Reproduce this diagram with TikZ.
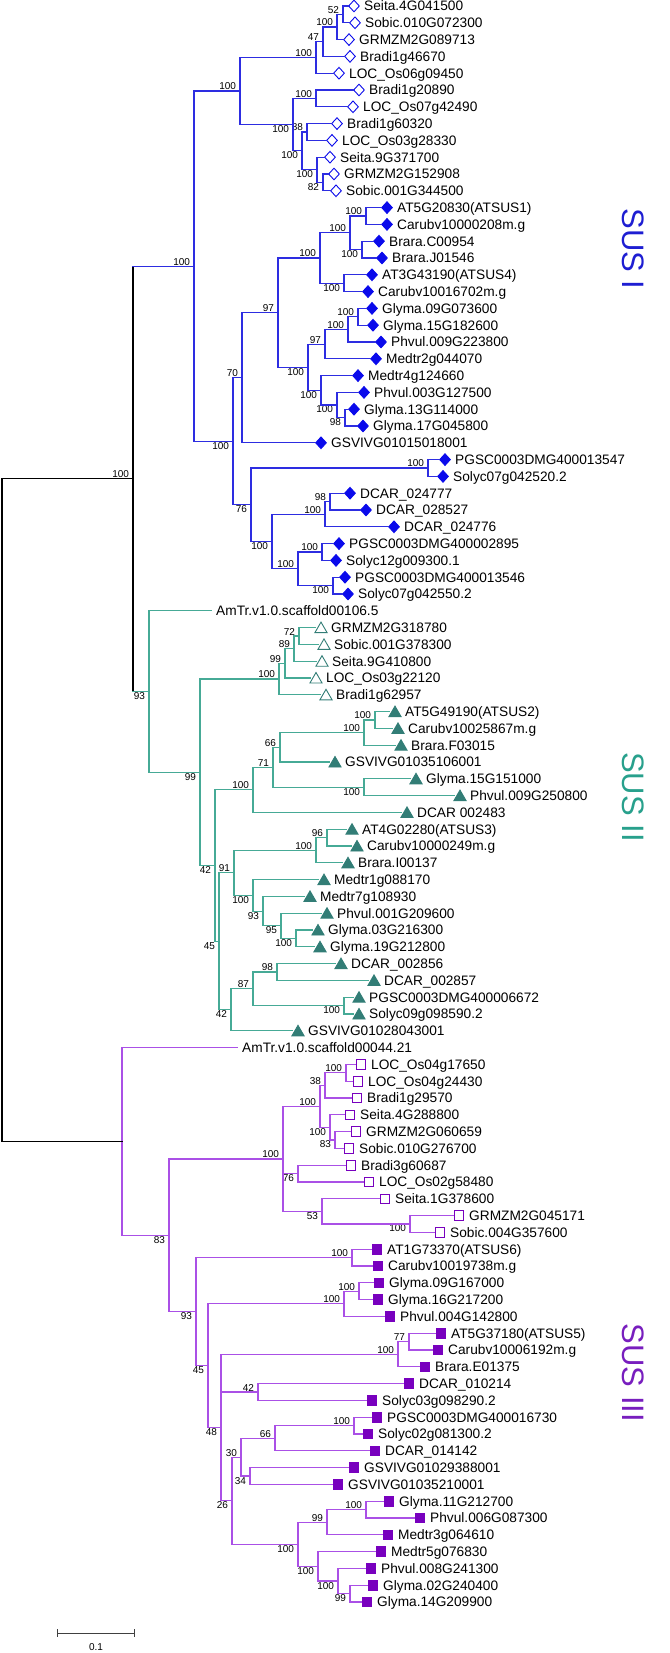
\documentclass[tikz,border=0pt]{standalone}
\usepackage{fontspec}
\setmainfont{Liberation Sans}
\usetikzlibrary{calc,shapes.geometric}
\definecolor{cI}{RGB}{45,45,225}
\definecolor{cIm}{RGB}{10,10,235}
\definecolor{cII}{RGB}{70,170,150}
\definecolor{cIIm}{RGB}{50,125,118}
\definecolor{cIII}{RGB}{170,80,230}
\definecolor{cIIIm}{RGB}{120,0,190}
\definecolor{tI}{RGB}{30,30,210}
\definecolor{tII}{RGB}{40,160,140}
\definecolor{tIII}{RGB}{120,30,190}
\tikzset{
  br/.style={line width=1.2pt, line cap=rect},
  cIl/.style={br, draw=cI},
  cIIl/.style={br, draw=cII},
  cIIIl/.style={br, draw=cIII},
  blk/.style={br, draw=black},
  mk/.style={inner sep=0pt, line width=0.9pt},
  od/.style={mk, diamond, minimum width=11pt, minimum height=12pt, draw=cIm, fill=white},
  fd/.style={mk, diamond, minimum width=11pt, minimum height=12pt, draw=cIm, fill=cIm},
  ot/.style={mk, regular polygon, regular polygon sides=3, minimum size=14pt, draw=cIIm, fill=white, yshift=-1.5pt},
  ft/.style={mk, regular polygon, regular polygon sides=3, minimum size=14pt, draw=cIIm, fill=cIIm, yshift=-1.5pt},
  os/.style={mk, rectangle, minimum size=9.5pt, draw=cIIIm, fill=white},
  fs/.style={mk, rectangle, minimum size=9.5pt, draw=cIIIm, fill=cIIIm},
  lab/.style={anchor=base west, inner sep=0pt, font=\fontsize{13.7}{15}\selectfont},
  bs/.style={inner sep=0.8pt, font=\fontsize{10}{11}\selectfont},
  bsa/.style={bs, anchor=south east, xshift=-3pt},
  bsb/.style={bs, anchor=north east, xshift=-3pt},
  bsn/.style={bs},
  sus/.style={rotate=-90, font=\fontsize{31}{31}\selectfont}
}
% leaf: index, marker centre x, marker style, text
\newcommand\lf[4]{%
  \pgfmathsetmacro\ly{6+16.8*(#1-1)}%
  \coordinate (L#1) at ({#2-5.5},\ly);
  \node[#3] (M#1) at (#2,\ly) {};
  \node[lab] (T#1) at ({#2+10},{\ly+4.9}) {#4};
}
% leaf without marker: index, tip x, text
\newcommand\lfn[3]{%
  \pgfmathsetmacro\ly{6+16.8*(#1-1)}%
  \coordinate (L#1) at (#2,\ly);
  \node[lab] (T#1) at ({#2+5},{\ly+4.9}) {#3};
}
% internal node: name, x, first child, last child, line style, label, a/b/n
\newcommand\nd[7]{%
  \path let \p1=($(#3)!0.5!(#4)$) in coordinate (#1) at (#2pt,\y1);
  \draw[#5] (#3 -| #1) -- (#4 -| #1);
  \draw[#5] (#3) -- (#3 -| #1);
  \draw[#5] (#4) -- (#4 -| #1);
  \node[bs#7] (B#1) at (#1) {#6};
}
\newcommand\hb[3]{\draw[#1] (#2) -- (#2 -| #3);}
\begin{document}
\begin{tikzpicture}[x=1pt,y=-1pt]
\useasboundingbox (0,0) rectangle (669,1653);
% ---------------- leaves
\lf{1}{354}{od}{Seita.4G041500}
\lf{2}{355}{od}{Sobic.010G072300}
\lf{3}{349}{od}{GRMZM2G089713}
\lf{4}{350}{od}{Bradi1g46670}
\lf{5}{339}{od}{LOC\_Os06g09450}
\lf{6}{359}{od}{Bradi1g20890}
\lf{7}{353}{od}{LOC\_Os07g42490}
\lf{8}{337}{od}{Bradi1g60320}
\lf{9}{332}{od}{LOC\_Os03g28330}
\lf{10}{330}{od}{Seita.9G371700}
\lf{11}{334}{od}{GRMZM2G152908}
\lf{12}{336}{od}{Sobic.001G344500}
\lf{13}{387}{fd}{AT5G20830(ATSUS1)}
\lf{14}{387}{fd}{Carubv10000208m.g}
\lf{15}{379}{fd}{Brara.C00954}
\lf{16}{382}{fd}{Brara.J01546}
\lf{17}{372}{fd}{AT3G43190(ATSUS4)}
\lf{18}{368}{fd}{Carubv10016702m.g}
\lf{19}{372}{fd}{Glyma.09G073600}
\lf{20}{373}{fd}{Glyma.15G182600}
\lf{21}{381}{fd}{Phvul.009G223800}
\lf{22}{376}{fd}{Medtr2g044070}
\lf{23}{358}{fd}{Medtr4g124660}
\lf{24}{364}{fd}{Phvul.003G127500}
\lf{25}{354}{fd}{Glyma.13G114000}
\lf{26}{363}{fd}{Glyma.17G045800}
\lf{27}{321}{fd}{GSVIVG01015018001}
\lf{28}{445}{fd}{PGSC0003DMG400013547}
\lf{29}{443}{fd}{Solyc07g042520.2}
\lf{30}{350}{fd}{DCAR\_024777}
\lf{31}{366}{fd}{DCAR\_028527}
\lf{32}{394}{fd}{DCAR\_024776}
\lf{33}{339}{fd}{PGSC0003DMG400002895}
\lf{34}{336}{fd}{Solyc12g009300.1}
\lf{35}{345}{fd}{PGSC0003DMG400013546}
\lf{36}{348}{fd}{Solyc07g042550.2}
\lfn{37}{211}{AmTr.v1.0.scaffold00106.5}
\lf{38}{321}{ot}{GRMZM2G318780}
\lf{39}{324}{ot}{Sobic.001G378300}
\lf{40}{322}{ot}{Seita.9G410800}
\lf{41}{316}{ot}{LOC\_Os03g22120}
\lf{42}{326}{ot}{Bradi1g62957}
\lf{43}{395}{ft}{AT5G49190(ATSUS2)}
\lf{44}{398}{ft}{Carubv10025867m.g}
\lf{45}{401}{ft}{Brara.F03015}
\lf{46}{335}{ft}{GSVIVG01035106001}
\lf{47}{416}{ft}{Glyma.15G151000}
\lf{48}{460}{ft}{Phvul.009G250800}
\lf{49}{407}{ft}{DCAR 002483}
\lf{50}{352}{ft}{AT4G02280(ATSUS3)}
\lf{51}{357}{ft}{Carubv10000249m.g}
\lf{52}{348}{ft}{Brara.I00137}
\lf{53}{324}{ft}{Medtr1g088170}
\lf{54}{310}{ft}{Medtr7g108930}
\lf{55}{327}{ft}{Phvul.001G209600}
\lf{56}{318}{ft}{Glyma.03G216300}
\lf{57}{320}{ft}{Glyma.19G212800}
\lf{58}{341}{ft}{DCAR\_002856}
\lf{59}{374}{ft}{DCAR\_002857}
\lf{60}{359}{ft}{PGSC0003DMG400006672}
\lf{61}{359}{ft}{Solyc09g098590.2}
\lf{62}{298}{ft}{GSVIVG01028043001}
\lfn{63}{237}{AmTr.v1.0.scaffold00044.21}
\lf{64}{361}{os}{LOC\_Os04g17650}
\lf{65}{358}{os}{LOC\_Os04g24430}
\lf{66}{357}{os}{Bradi1g29570}
\lf{67}{350}{os}{Seita.4G288800}
\lf{68}{356}{os}{GRMZM2G060659}
\lf{69}{349}{os}{Sobic.010G276700}
\lf{70}{351}{os}{Bradi3g60687}
\lf{71}{369}{os}{LOC\_Os02g58480}
\lf{72}{385}{os}{Seita.1G378600}
\lf{73}{459}{os}{GRMZM2G045171}
\lf{74}{440}{os}{Sobic.004G357600}
\lf{75}{377}{fs}{AT1G73370(ATSUS6)}
\lf{76}{378}{fs}{Carubv10019738m.g}
\lf{77}{379}{fs}{Glyma.09G167000}
\lf{78}{378}{fs}{Glyma.16G217200}
\lf{79}{390}{fs}{Phvul.004G142800}
\lf{80}{441}{fs}{AT5G37180(ATSUS5)}
\lf{81}{438}{fs}{Carubv10006192m.g}
\lf{82}{425}{fs}{Brara.E01375}
\lf{83}{409}{fs}{DCAR\_010214}
\lf{84}{372}{fs}{Solyc03g098290.2}
\lf{85}{377}{fs}{PGSC0003DMG400016730}
\lf{86}{368}{fs}{Solyc02g081300.2}
\lf{87}{375}{fs}{DCAR\_014142}
\lf{88}{354}{fs}{GSVIVG01029388001}
\lf{89}{338}{fs}{GSVIVG01035210001}
\lf{90}{389}{fs}{Glyma.11G212700}
\lf{91}{420}{fs}{Phvul.006G087300}
\lf{92}{388}{fs}{Medtr3g064610}
\lf{93}{381}{fs}{Medtr5g076830}
\lf{94}{371}{fs}{Phvul.008G241300}
\lf{95}{373}{fs}{Glyma.02G240400}
\lf{96}{367}{fs}{Glyma.14G209900}
% ---------------- SUS I
\nd{a1}{343}{L1}{L2}{cIl}{52}{a}
\nd{a2}{337}{a1}{L3}{cIl}{100}{a}
\nd{a3}{323}{a2}{L4}{cIl}{47}{a}
\nd{a4}{316}{a3}{L5}{cIl}{100}{a}
\nd{a5}{316}{L6}{L7}{cIl}{100}{a}
\nd{a6}{307}{L8}{L9}{cIl}{88}{a}
\nd{a7}{323}{L11}{L12}{cIl}{82}{b}
\nd{a8}{317}{L10}{a7}{cIl}{100}{b}
\nd{a9}{302}{a6}{a8}{cIl}{100}{b}
\nd{a10}{293}{a5}{a9}{cIl}{100}{b}
\nd{a11}{240}{a4}{a10}{cIl}{100}{a}
\nd{b1}{366}{L13}{L14}{cIl}{100}{a}
\nd{b2}{362}{L15}{L16}{cIl}{100}{b}
\nd{b3}{350}{b1}{b2}{cIl}{100}{a}
\nd{b4}{344}{L17}{L18}{cIl}{100}{b}
\nd{b5}{320}{b3}{b4}{cIl}{100}{a}
\nd{b6}{358}{L19}{L20}{cIl}{100}{a}
\nd{b7}{348}{b6}{L21}{cIl}{100}{a}
\nd{b8}{325}{b7}{L22}{cIl}{97}{a}
\nd{b9}{345}{L25}{L26}{cIl}{98}{b}
\nd{b10}{337}{L24}{b9}{cIl}{100}{b}
\nd{b11}{321}{L23}{b10}{cIl}{100}{b}
\nd{b12}{308}{b8}{b11}{cIl}{100}{b}
\nd{b13}{278}{b5}{b12}{cIl}{97}{a}
\nd{b14}{242}{b13}{L27}{cIl}{70}{a}
\nd{c1}{428}{L28}{L29}{cIl}{100}{a}
\nd{c2}{330}{L30}{L31}{cIl}{98}{a}
\nd{c3}{325}{c2}{L32}{cIl}{100}{a}
\nd{c4}{322}{L33}{L34}{cIl}{100}{a}
\nd{c5}{333}{L35}{L36}{cIl}{100}{b}
\nd{c6}{298}{c4}{c5}{cIl}{100}{a}
\nd{c7}{272}{c3}{c6}{cIl}{100}{b}
\nd{c8}{251}{c1}{c7}{cIl}{76}{b}
\nd{b15}{233}{b14}{c8}{cIl}{100}{b}
\nd{s1}{194}{a11}{b15}{cIl}{100}{a}
% ---------------- SUS II
\nd{d1}{299}{L38}{L39}{cIIl}{72}{a}
\nd{d2}{294}{d1}{L40}{cIIl}{89}{a}
\nd{d3}{285}{d2}{L41}{cIIl}{99}{a}
\nd{d4}{279}{d3}{L42}{cIIl}{100}{a}
\nd{e1}{375}{L43}{L44}{cIIl}{100}{a}
\nd{e2}{364}{e1}{L45}{cIIl}{100}{a}
\nd{e3}{280}{e2}{L46}{cIIl}{66}{a}
\nd{e4}{364}{L47}{L48}{cIIl}{100}{b}
\nd{e5}{273}{e3}{e4}{cIIl}{71}{a}
\nd{e6}{253}{e5}{L49}{cIIl}{100}{a}
\nd{f1}{327}{L50}{L51}{cIIl}{96}{a}
\nd{f2}{316}{f1}{L52}{cIIl}{100}{a}
\nd{f3}{296}{L56}{L57}{cIIl}{100}{b}
\nd{f4}{281}{L55}{f3}{cIIl}{95}{b}
\nd{f5}{263}{L54}{f4}{cIIl}{93}{b}
\nd{f6}{253}{L53}{f5}{cIIl}{100}{b}
\nd{f7}{234}{f2}{f6}{cIIl}{91}{a}
\nd{h1}{277}{L58}{L59}{cIIl}{98}{a}
\nd{h2}{344}{L60}{L61}{cIIl}{100}{b}
\nd{h3}{253}{h1}{h2}{cIIl}{87}{a}
\nd{h4}{231}{h3}{L62}{cIIl}{42}{b}
\nd{g1}{219}{f7}{h4}{cIIl}{45}{b}
\nd{g2}{215}{e6}{g1}{cIIl}{42}{b}
\nd{g3}{200}{d4}{g2}{cIIl}{99}{b}
\nd{s2}{149}{L37}{g3}{cIIl}{93}{b}
% ---------------- SUS III
\nd{m1}{346}{L64}{L65}{cIIIl}{100}{a}
\nd{m2}{325}{m1}{L66}{cIIIl}{38}{a}
\nd{m3}{335}{L68}{L69}{cIIIl}{83}{b}
\nd{m4}{330}{L67}{m3}{cIIIl}{100}{b}
\nd{m5}{320}{m2}{m4}{cIIIl}{100}{a}
\nd{m6}{298}{L70}{L71}{cIIIl}{76}{b}
\nd{m7}{410}{L73}{L74}{cIIIl}{100}{b}
\nd{m8}{322}{L72}{m7}{cIIIl}{53}{b}
\nd{m9}{283}{m5}{m8}{cIIIl}{100}{a}
\hb{cIIIl}{m6}{m9}
\nd{k1}{352}{L75}{L76}{cIIIl}{100}{a}
\nd{k2}{359}{L77}{L78}{cIIIl}{100}{a}
\nd{k3}{344}{k2}{L79}{cIIIl}{100}{a}
\nd{k4}{409}{L80}{L81}{cIIIl}{77}{a}
\nd{k5}{398}{k4}{L82}{cIIIl}{100}{a}
\nd{k6}{258}{L83}{L84}{cIIIl}{42}{a}
\nd{k7}{354}{L85}{L86}{cIIIl}{100}{a}
\nd{k8}{275}{k7}{L87}{cIIIl}{66}{a}
\nd{k9}{250}{L88}{L89}{cIIIl}{34}{b}
\nd{k10}{241}{k8}{k9}{cIIIl}{30}{a}
\nd{k13}{366}{L90}{L91}{cIIIl}{100}{a}
\nd{k11}{327}{k13}{L92}{cIIIl}{99}{a}
\nd{k14}{350}{L95}{L96}{cIIIl}{99}{b}
\nd{k15}{338}{L94}{k14}{cIIIl}{100}{b}
\nd{k12}{318}{L93}{k15}{cIIIl}{100}{b}
\nd{kw}{298}{k11}{k12}{cIIIl}{100}{b}
\nd{kz}{232}{k10}{kw}{cIIIl}{26}{b}
\nd{ky}{221}{k5}{kz}{cIIIl}{48}{b}
\hb{cIIIl}{k6}{ky}
\nd{kx}{208}{k3}{ky}{cIIIl}{45}{b}
\nd{kk}{196}{k1}{kx}{cIIIl}{93}{b}
\nd{ki}{169}{m9}{kk}{cIIIl}{83}{b}
\nd{s3}{122}{L63}{ki}{cIIIl}{}{n}
% ---------------- root part
\path let \p1=($(s1)!0.5!(s2)$) in coordinate (s12) at (133pt,\y1);
\draw[blk] (s1 -| s12) -- (s2 -| s12);
\draw[cIl] (s1) -- (s1 -| s12);
\draw[cIIl] (s2) -- (s2 -| s12);
\node[bsa] (Bs12) at (s12) {100};
\path let \p1=($(s12)!0.5!(s3)$) in coordinate (r) at (2pt,\y1);
\draw[blk] (s12 -| r) -- (s3 -| r);
\draw[blk] (s12) -- (s12 -| r);
\draw[blk] (s3) -- (s3 -| r);
% ---------------- group labels
\node[sus, text=tI] (G1) at (633,249) {SUS I};
\node[sus, text=tII] (G2) at (633,797) {SUS II};
\node[sus, text=tIII] (G3) at (633,1373) {SUS III};
% ---------------- scale bar
\coordinate (sb1) at (57,1633);
\coordinate (sb2) at (134,1633);
\draw[line width=1pt, draw=black!75] (sb1) -- (sb2);
\draw[line width=1pt, draw=black!75] ([yshift=4pt]sb1) -- ([yshift=-4pt]sb1);
\draw[line width=1pt, draw=black!75] ([yshift=4pt]sb2) -- ([yshift=-4pt]sb2);
\node[bs, anchor=base] (sbl) at (96,1650) {0.1};
\end{tikzpicture}
\end{document}
